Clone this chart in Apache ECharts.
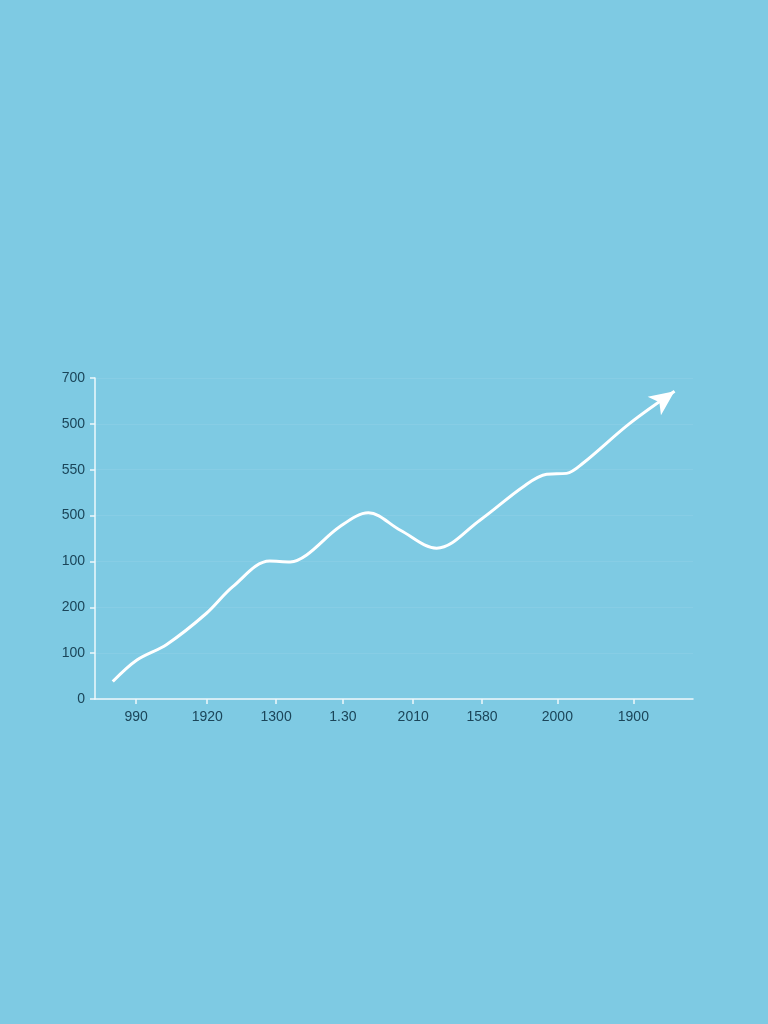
<!DOCTYPE html>
<html>
<head>
<meta charset="utf-8">
<style>
	html, body { margin: 0; padding: 0; background: #7ecae3; }
	#chart { width: 768px; height: 1024px; }
</style>
<script src="https://cdn.jsdelivr.net/npm/echarts@6/dist/echarts.min.js"></script>
</head>
<body>
<div id="chart"></div>
<script>
// tick labels, as printed on the picture
var yLabels = ['0', '100', '200', '100', '500', '550', '500', '700'];
var xLabels = ['990', '1920', '1300', '1.30', '2010', '1580', '2000', '1900'];
// tick positions along x (they are not evenly spaced in the picture)
var xTicks = [1, 2, 2.97, 3.91, 4.90, 5.87, 6.93, 8];

// line points (x in tick units, y in axis units)
var lineX = [0.67, 1.01, 1.43, 1.99, 2.36, 2.88, 3.17, 3.40, 3.87, 4.27, 4.72, 5.23, 5.84, 6.45, 6.78, 7.06, 7.29, 7.95, 8.58];
var lineY = [38, 85, 119, 187, 245, 301, 299, 314, 376, 406, 368, 329, 390, 463, 490, 492, 514, 601, 671];

var textColor = '#1b4559';
var axisColor = '#eef8fc';

var chart = echarts.init(document.getElementById('chart'));

function nearestTick(v){
	var best = 0;
	for(var i = 1; i < xTicks.length; i++){
		if(Math.abs(xTicks[i] - v) < Math.abs(xTicks[best] - v)) best = i;
	}
	return best;
}

var points = lineX.map(function(x, i){
	var p = { value: [x, lineY[i]] };
	// arrow head on the last point
	if(i == lineX.length - 1){
		p.symbol = 'arrow';
		p.symbolSize = [17, 25];
		p.symbolRotate = -54;
		p.itemStyle = { color: '#ffffff' };
	}
	return p;
});

var option = {
	backgroundColor: '#7ecae3',
	animation: false,
	grid: { left: 95, right: 75, top: 378, bottom: 325 },
	xAxis: {
		type: 'value',
		min: 0.42,
		max: 8.84,
		axisLine: { show: true, lineStyle: { color: axisColor, width: 1.5 } },
		axisTick: { show: true, customValues: xTicks, length: 5, lineStyle: { color: axisColor, width: 1.5 } },
		axisLabel: {
			customValues: xTicks,
			color: textColor,
			fontSize: 14,
			fontFamily: 'Liberation Sans, Arial, sans-serif',
			margin: 11,
			formatter: function(v){ return xLabels[nearestTick(v)]; }
		},
		splitLine: { show: false }
	},
	yAxis: {
		type: 'value',
		min: 0,
		max: 700,
		interval: 100,
		axisLine: { show: true, lineStyle: { color: axisColor, width: 1.5 } },
		axisTick: { show: true, length: 5, lineStyle: { color: axisColor, width: 1.5 } },
		axisLabel: {
			color: textColor,
			fontSize: 14,
			fontFamily: 'Liberation Sans, Arial, sans-serif',
			margin: 10,
			formatter: function(v){ return yLabels[Math.round(v / 100)]; }
		},
		splitLine: { show: true, lineStyle: { color: 'rgba(255,255,255,0.07)', width: 1 } }
	},
	series: [
		{
			type: 'line',
			smooth: 0.35,
			symbol: 'none',
			showSymbol: true,
			lineStyle: { color: '#ffffff', width: 3 },
			itemStyle: { color: '#ffffff' },
			data: points
		}
	]
};

chart.setOption(option);
</script>
</body>
</html>
